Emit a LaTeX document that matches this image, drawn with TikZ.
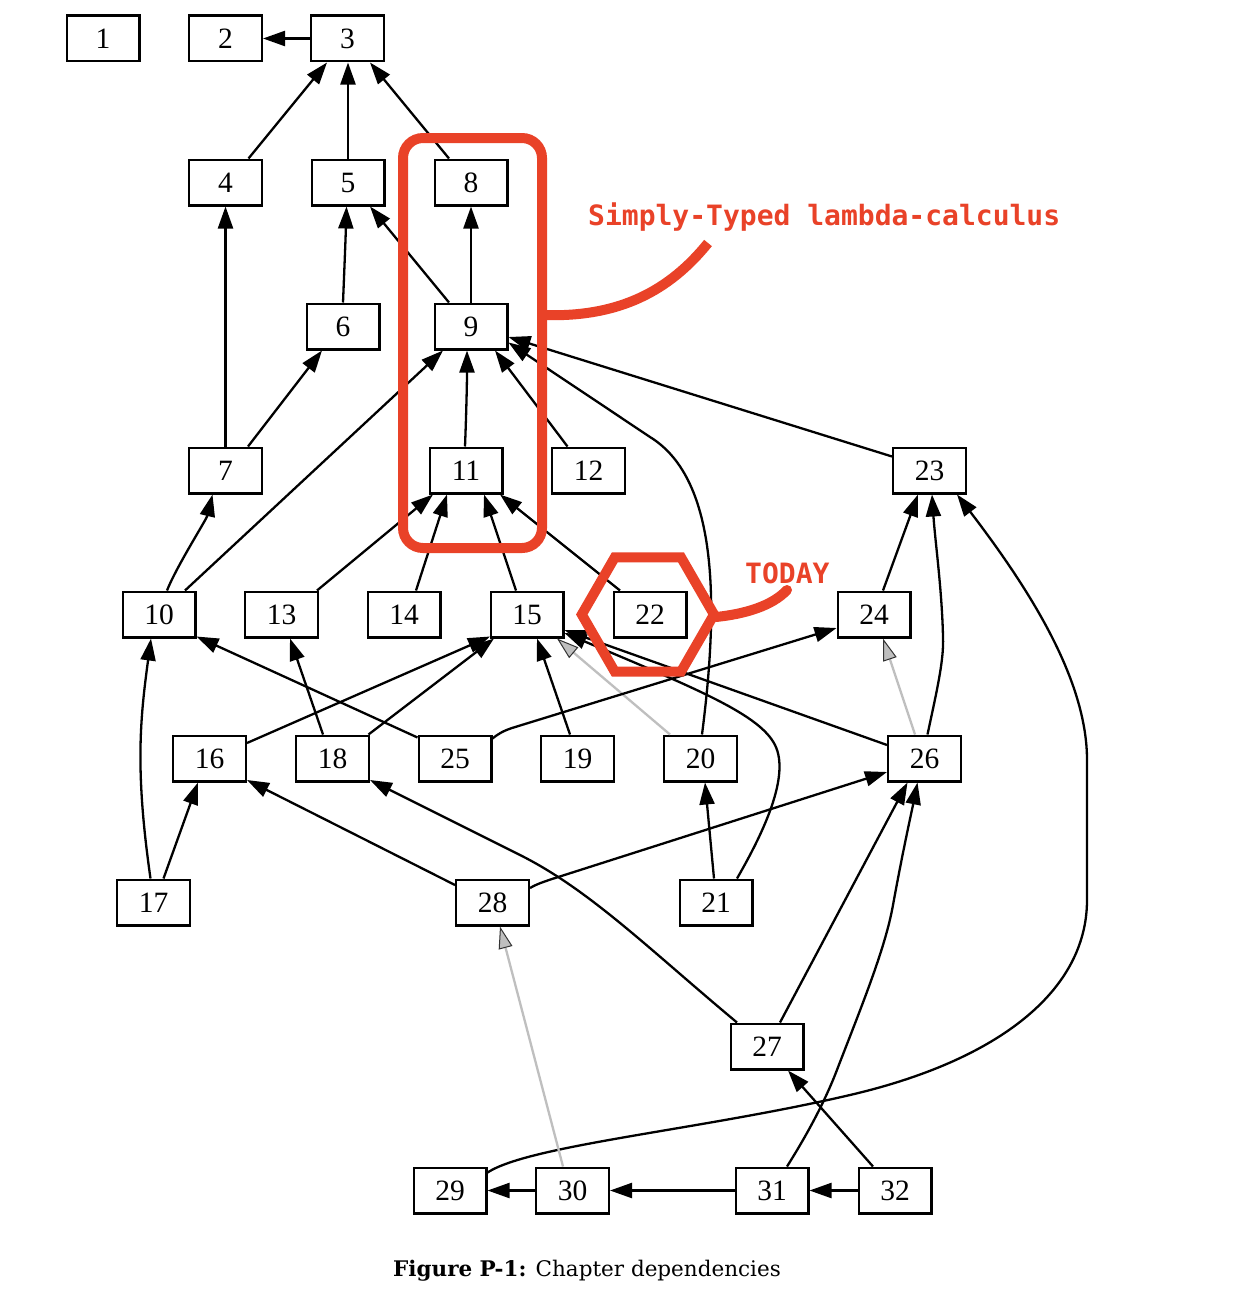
\documentclass[tikz,border=0pt]{standalone}
\usepackage{fontspec}
\setmainfont{Liberation Serif}
\newfontfamily\annfont{DejaVu Sans Mono}
\newfontfamily\capfont{DejaVu Serif}
\usetikzlibrary{arrows.meta,calc}
\definecolor{annred}{RGB}{233,66,40}
\begin{document}
\begin{tikzpicture}[x=1pt,y=-1pt,
  box/.style={draw,line width=2.4pt,minimum width=72.6pt,minimum height=45.6pt,inner sep=0pt,font=\fontsize{29.5}{29.5}\selectfont},
  dep/.style={line width=2.3pt,-{Triangle[length=22pt,width=15pt]}},
  weak/.style={line width=2.3pt,draw=black!25,-{Triangle[length=22pt,width=14pt,color=black!80,fill=black!25,line width=1pt]}},
  ann/.style={draw=annred,line width=10pt},
]
\fill[white] (0,0) rectangle (1238,1306);
\useasboundingbox (0,0) rectangle (1238,1306);

\node[box] (n1) at (103,38.5) {1};
\node[box] (n2) at (225.5,38.5) {2};
\node[box] (n3) at (347.5,38.5) {3};
\node[box] (n4) at (225.5,182.5) {4};
\node[box] (n5) at (348,182.5) {5};
\node[box] (n8) at (471,182.5) {8};
\node[box] (n6) at (343,326.5) {6};
\node[box] (n9) at (471,326.5) {9};
\node[box] (n7) at (225.5,470.5) {7};
\node[box] (n11) at (466,470.5) {11};
\node[box] (n12) at (588.5,470.5) {12};
\node[box] (n23) at (929.5,470.5) {23};
\node[box] (n10) at (159,614.5) {10};
\node[box] (n13) at (281.5,614.5) {13};
\node[box] (n14) at (404,614.5) {14};
\node[box] (n15) at (527,614.5) {15};
\node[box] (n22) at (650,614.5) {22};
\node[box] (n24) at (874,614.5) {24};
\node[box] (n16) at (209.5,758.5) {16};
\node[box] (n18) at (332.5,758.5) {18};
\node[box] (n25) at (455,758.5) {25};
\node[box] (n19) at (577.5,758.5) {19};
\node[box] (n20) at (700.5,758.5) {20};
\node[box] (n26) at (924.5,758.5) {26};
\node[box] (n17) at (153.5,902.5) {17};
\node[box] (n28) at (492.5,902.5) {28};
\node[box] (n21) at (716,902.5) {21};
\node[box] (n27) at (767,1046.5) {27};
\node[box] (n29) at (450,1190.5) {29};
\node[box] (n30) at (572.5,1190.5) {30};
\node[box] (n31) at (772,1190.5) {31};
\node[box] (n32) at (895,1190.5) {32};

\draw[dep] (n3.west) -- (n2.east);
\draw[dep] ($(n4)+(23,-24)$) -- ($(n3)+(-20.5,24)$);
\draw[dep] ($(n5)+(0,-24)$) -- ($(n3)+(0.5,24)$);
\draw[dep] ($(n8)+(-22,-24)$) -- ($(n3)+(22.5,24)$);
\draw[dep] (n6.north) .. controls +(1,-25) and +(-1,35) .. ($(n5)+(-1.5,24)$);
\draw[dep] ($(n9)+(-22,-24)$) -- ($(n5)+(22,24)$);
\draw[dep] (n9.north) -- (n8.south);
\draw[dep] (n7.north) -- (n4.south);
\draw[dep] ($(n7)+(22.5,-24)$) -- ($(n6)+(-21,24)$);
\draw[dep] ($(n10)+(26,-24)$) -- ($(n9)+(-28,24)$);
\draw[dep] ($(n10)+(8,-24)$) .. controls +(10,-25) and +(-6,25) .. ($(n7)+(-13,24)$);
\draw[dep] ($(n11)+(-1,-24)$) .. controls +(1,-25) and +(0,35) .. ($(n9)+(-4,24)$);
\draw[dep] ($(n12)+(-21,-24)$) -- ($(n9)+(24,24)$);
\draw[dep] ($(n23)+(-37.5,-14)$) -- ($(n9)+(37.5,10.5)$);
\draw[dep] ($(n20)+(1.5,-24)$) .. controls (718,610) and (720,480) .. (650,437) -- ($(n9)+(37.5,16)$);
\draw[dep] ($(n13)+(35.5,-24)$) -- ($(n11)+(-33,24)$);
\draw[dep] ($(n14)+(12,-24)$) -- ($(n11)+(-19,24)$);
\draw[dep] ($(n15)+(-11,-24)$) -- ($(n11)+(18,24)$);
\draw[dep] ($(n22)+(-30,-24)$) -- ($(n11)+(34,24)$);
\draw[dep] ($(n24)+(9,-24)$) -- ($(n23)+(-11.5,24)$);
\draw[dep] ($(n26)+(3,-24)$) .. controls (937,690) and (944,660) .. (943,637) .. controls (942,590) and (935,540) .. ($(n23)+(2.5,24)$);
\draw[dep] ($(n29)+(37.5,-18)$) .. controls (530,1145) and (700,1130) .. (850,1095) .. controls (1000,1060) and (1087,990) .. (1087,900) -- (1087,760) .. controls (1087,680) and (1030,590) .. ($(n23)+(27.5,24)$);
\draw[dep] ($(n17)+(-3,-24)$) .. controls (135,770) and (140,720) .. ($(n10)+(-8,24)$);
\draw[dep] ($(n25)+(-37.5,-21)$) -- ($(n10)+(37.5,22)$);
\draw[dep] ($(n18)+(-9.5,-24)$) -- ($(n13)+(8.5,24)$);
\draw[dep] ($(n16)+(37.5,-15.5)$) -- ($(n15)+(-37,22)$);
\draw[dep] ($(n18)+(36,-24)$) -- ($(n15)+(-33,24)$);
\draw[dep] ($(n19)+(-7.5,-24)$) -- ($(n15)+(10,24)$);
\draw[weak] ($(n20)+(-30.5,-24)$) -- ($(n15)+(30,24)$);
\draw[dep] ($(n21)+(21,-24)$) .. controls (765,830) and (790,775) .. (775,745) .. controls (760,715) and (700,690) .. ($(n15)+(37.5,18.5)$);
\draw[dep] ($(n26)+(-37.5,-13.5)$) -- ($(n15)+(37.5,15.5)$);
\draw[dep] ($(n25)+(37.5,-20)$) .. controls (498,734) and (503,731) .. (512,728) -- ($(n24)+(-37.5,13.5)$);
\draw[weak] ($(n26)+(-9.5,-24)$) -- ($(n24)+(9,24)$);
\draw[dep] ($(n17)+(10,-24)$) -- ($(n16)+(-11.5,24)$);
\draw[dep] ($(n28)+(-37.5,-17.5)$) -- ($(n16)+(37.5,21.5)$);
\draw[dep] ($(n27)+(-30,-24)$) .. controls (650,950) and (590,890) .. (520,855) -- ($(n18)+(37.5,21.5)$);
\draw[dep] ($(n21)+(-2,-24)$) -- ($(n20)+(4.5,24)$);
\draw[dep] ($(n28)+(37.5,-14.5)$) .. controls (535,885) and (540,883) .. (552,879) -- ($(n26)+(-37.5,13.5)$);
\draw[dep] ($(n27)+(13,-24)$) -- ($(n26)+(-17,24)$);
\draw[dep] ($(n31)+(15,-24)$) .. controls (810,1130) and (825,1100) .. (835,1075) .. controls (860,1010) and (885,950) .. (893,905) .. controls (903,850) and (912,810) .. ($(n26)+(-7,24)$);
\draw[weak] ($(n30)+(-9.5,-24)$) -- ($(n28)+(7.5,24)$);
\draw[dep] (n30.west) -- (n29.east);
\draw[dep] (n31.west) -- (n30.east);
\draw[dep] (n32.west) -- (n31.east);
\draw[dep] ($(n32)+(-22,-24)$) -- ($(n27)+(21,24)$);

% annotations
\draw[ann, rounded corners=20pt] (403,138) rectangle (542,548);
\draw[ann, line join=miter] (714,614.5) -- (681,557.3) -- (614.8,557.3) -- (581.8,614.5) -- (614.8,671.7) -- (681,671.7) -- cycle;
\draw[ann] (542,315) .. controls (620,318) and (670,290) .. (708,243);
\draw[ann, line cap=round] (716,617) .. controls (745,614) and (772,606) .. (787,590);
\node[anchor=base west, text=annred, font=\annfont\bfseries\fontsize{28}{28}\selectfont, inner sep=0pt] (lbl) at (588,225) {Simply-Typed lambda-calculus};
\node[anchor=base west, text=annred, font=\annfont\bfseries\fontsize{28}{28}\selectfont, inner sep=0pt] (today) at (745,583) {TODAY};
\node[anchor=base, font=\capfont\fontsize{21.5}{21.5}\selectfont, inner sep=0pt] (cap) at (587,1276) {\textbf{Figure P-1:} Chapter dependencies};
\end{tikzpicture}
\end{document}
